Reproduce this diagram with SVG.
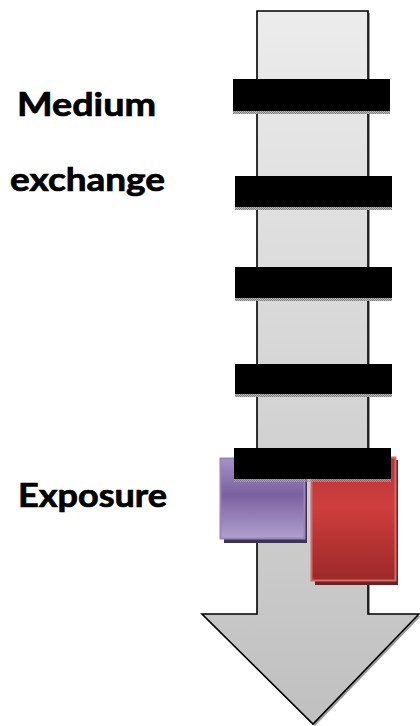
<svg xmlns="http://www.w3.org/2000/svg" width="420" height="726" viewBox="0 0 420 726">
  <defs>
    <linearGradient id="arrowFill" x1="0" y1="0" x2="0" y2="1">
      <stop offset="0" stop-color="#ececec"/>
      <stop offset="1" stop-color="#c0c0c0"/>
    </linearGradient>
    <linearGradient id="purpleFill" x1="0" y1="0" x2="0" y2="1">
      <stop offset="0" stop-color="#a593c3"/>
      <stop offset="0.45" stop-color="#7b60a0"/>
      <stop offset="1" stop-color="#b0a0cc"/>
    </linearGradient>
    <linearGradient id="redFill" x1="0" y1="0" x2="0" y2="1">
      <stop offset="0" stop-color="#b83535"/>
      <stop offset="0.4" stop-color="#cf3e3e"/>
      <stop offset="1" stop-color="#9c2828"/>
    </linearGradient>
    <pattern id="dither" width="2" height="2" patternUnits="userSpaceOnUse">
      <rect width="2" height="2" fill="#b8b8b8"/>
      <rect width="1" height="1" fill="#808080"/>
      <rect x="1" y="1" width="1" height="1" fill="#808080"/>
    </pattern>
  </defs>
  <style>
    .label { font-family: Lato, "Open Sans", "Liberation Sans", sans-serif; font-weight: bold; font-size: 32px; fill: #000; stroke: #000; stroke-width: 0.7px; }
    .bar { fill: #000; }
    .barShadow { fill: url(#dither); }
  </style>

  <!-- timeline arrow -->
  <g id="arrow">
    <path d="M259,13 L370,13 L370,616 L421,616 L315,726 L204,616 L259,616 Z" fill="#9a9a9a"/>
    <path d="M257,11 L368,11 L368,614 L419,614 L313,724 L202,614 L257,614 Z" fill="url(#arrowFill)" stroke="#000" stroke-width="1.6" stroke-linejoin="miter"/>
  </g>

  <!-- exposure blocks -->
  <g id="exposure-purple">
    <rect x="224" y="461" width="83" height="82" fill="#3e3254"/>
    <rect x="220.5" y="458.5" width="84" height="80" fill="url(#purpleFill)" stroke="#9a84bc" stroke-width="2"/>
  </g>
  <g id="exposure-red">
    <rect x="315" y="460" width="83" height="125" fill="#6a2222"/>
    <rect x="311.5" y="457.5" width="84" height="123" fill="url(#redFill)" stroke="#d86868" stroke-width="2"/>
  </g>

  <!-- medium exchange bars -->
  <g id="bar-1">
    <rect class="barShadow" x="233" y="111" width="157" height="3"/>
    <rect class="bar" x="233" y="79" width="157" height="32"/>
  </g>
  <g id="bar-2">
    <rect class="barShadow" x="235" y="207" width="157" height="3"/>
    <rect class="bar" x="235" y="176" width="157" height="31"/>
  </g>
  <g id="bar-3">
    <rect class="barShadow" x="235" y="298" width="157" height="3"/>
    <rect class="bar" x="235" y="267" width="157" height="31"/>
  </g>
  <g id="bar-4">
    <rect class="barShadow" x="235" y="394" width="157" height="3"/>
    <rect class="bar" x="235" y="364" width="157" height="30"/>
  </g>
  <g id="bar-5">
    <rect class="barShadow" x="234" y="479" width="157" height="3" opacity="0.6"/>
    <rect class="bar" x="234" y="448" width="157" height="31"/>
  </g>

  <!-- labels -->
  <g id="labels">
    <text class="label" x="17" y="116" textLength="139" lengthAdjust="spacingAndGlyphs">Medium</text>
    <text class="label" x="10" y="191" textLength="155" lengthAdjust="spacingAndGlyphs">exchange</text>
    <text class="label" x="18" y="507" textLength="149" lengthAdjust="spacingAndGlyphs">Exposure</text>
  </g>
</svg>
